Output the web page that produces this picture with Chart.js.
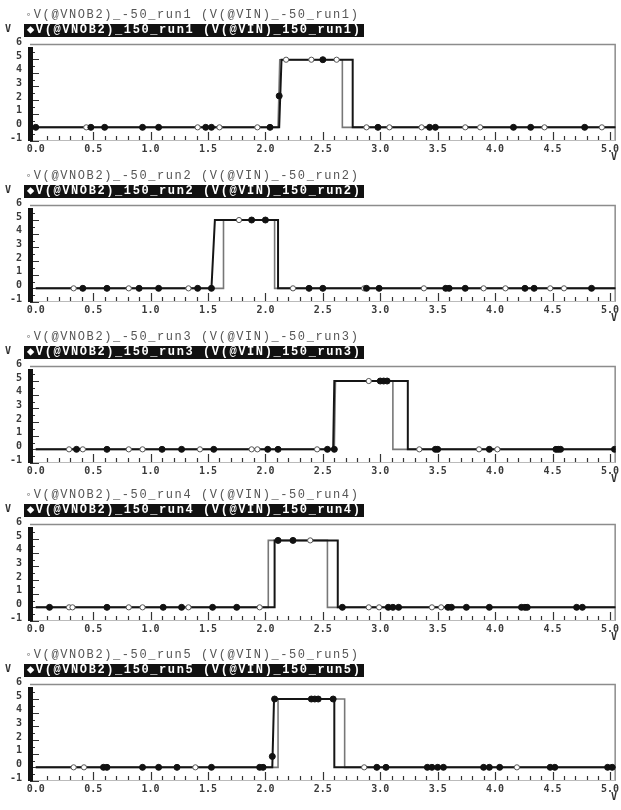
<!DOCTYPE html>
<html>
<head>
<meta charset="utf-8">
<script src="https://cdn.jsdelivr.net/npm/chart.js@4.4.1/dist/chart.umd.min.js"></script>
<style>
  body { margin: 0; background: #fff; }
  #wrap { position: relative; width: 621px; height: 810px; overflow: hidden; }
  .panel { position: absolute; left: 0; width: 621px; height: 160px; }
  .panel canvas { position: absolute; left: 0; top: 0; }
  .t1 { position: absolute; left: 25px; top: 8px; font: 12px "Liberation Mono", monospace;
        letter-spacing: 1.6px; color: #555; white-space: nowrap; line-height: 14px; }
  .t2 { position: absolute; left: 24px; top: 24px; height: 13px; padding: 0 3px 0 3px;
        font: bold 12px "Liberation Mono", monospace; letter-spacing: 1.6px; color: #fff;
        background: #111; white-space: nowrap; line-height: 13px; }
  .vy { position: absolute; left: 5px; top: 23px; font: bold 10px "DejaVu Sans Mono", monospace; color: #333; }
  .vx { position: absolute; left: 611px; top: 151px; font: bold 10px "DejaVu Sans Mono", monospace; color: #333; }
</style>
</head>
<body>
<div id="wrap"></div>
<script>
// axis ticks
const xTickValues = [0, 0.5, 1, 1.5, 2, 2.5, 3, 3.5, 4, 4.5, 5];
const xTickLabels = ['0.0', '0.5', '1.0', '1.5', '2.0', '2.5', '3.0', '3.5', '4.0', '4.5', '5.0'];
const yTickValues = [-1, 0, 1, 2, 3, 4, 5, 6];
const runNames = ['run1', 'run2', 'run3', 'run4', 'run5'];

// run1: -50 (gray, open marks) and 150 (black, filled marks)
const run1Cold = [[0, 0], [2.11, 0], [2.125, 4.95], [2.67, 4.95], [2.67, 0], [5.05, 0]];
const run1Hot = [[0, 0], [2.12, 0], [2.14, 4.95], [2.76, 4.95], [2.76, 0], [5.05, 0]];
const run1ColdMarks = [[0.44, 0], [1.41, 0], [1.6, 0], [1.93, 0], [2.18, 4.95], [2.4, 4.95], [2.62, 4.95],
  [2.88, 0], [3.08, 0], [3.36, 0], [3.74, 0], [3.87, 0], [4.43, 0], [4.93, 0]];
const run1HotMarks = [[0, 0], [0.48, 0], [0.6, 0], [0.93, 0], [1.07, 0], [1.48, 0], [1.53, 0], [2.04, 0],
  [2.12, 2.3], [2.5, 4.95], [2.98, 0], [3.43, 0], [3.48, 0], [4.16, 0], [4.31, 0], [4.78, 0]];

// run2
const run2Cold = [[0, 0], [1.635, 0], [1.635, 5.0], [2.08, 5.0], [2.08, 0], [5.05, 0]];
const run2Hot = [[0, 0], [1.53, 0], [1.56, 5.0], [2.11, 5.0], [2.11, 0], [5.05, 0]];
const run2ColdMarks = [[0.33, 0], [0.81, 0], [1.33, 0], [1.77, 5.0], [2.24, 0], [2.86, 0], [3.38, 0],
  [3.9, 0], [4.09, 0], [4.48, 0], [4.6, 0]];
const run2HotMarks = [[0.41, 0], [0.62, 0], [0.9, 0], [1.07, 0], [1.41, 0], [1.53, 0], [1.88, 5.0], [2.0, 5.0],
  [2.38, 0], [2.5, 0], [2.88, 0], [2.99, 0], [3.57, 0], [3.6, 0], [3.74, 0], [4.26, 0], [4.34, 0], [4.84, 0]];

// run3
const run3Cold = [[0, 0], [2.6, 0], [2.61, 5.0], [3.11, 5.0], [3.11, 0], [5.05, 0]];
const run3Hot = [[0, 0], [2.59, 0], [2.6, 5.0], [3.24, 5.0], [3.24, 0], [5.05, 0]];
const run3ColdMarks = [[0.29, 0], [0.41, 0], [0.81, 0], [0.93, 0], [1.43, 0], [1.88, 0], [1.93, 0], [2.45, 0],
  [2.9, 5.0], [3.34, 0], [3.86, 0], [4.02, 0]];
const run3HotMarks = [[0.355, 0], [0.62, 0], [1.1, 0], [1.27, 0], [1.55, 0], [2.02, 0], [2.11, 0], [2.54, 0],
  [2.6, 0], [3.0, 5.0], [3.03, 5.0], [3.06, 5.0], [3.48, 0], [3.5, 0], [3.95, 0], [4.53, 0], [4.55, 0], [4.57, 0], [5.04, 0]];

// run4
const run4Cold = [[0, 0], [2.025, 0], [2.025, 4.9], [2.54, 4.9], [2.54, 0], [5.05, 0]];
const run4Hot = [[0, 0], [2.075, 0], [2.08, 4.9], [2.63, 4.9], [2.63, 0], [5.05, 0]];
const run4ColdMarks = [[0.29, 0], [0.32, 0], [0.81, 0], [0.93, 0], [1.33, 0], [1.95, 0], [2.39, 4.9],
  [2.9, 0], [2.99, 0], [3.45, 0], [3.53, 0]];
const run4HotMarks = [[0.12, 0], [0.62, 0], [1.11, 0], [1.27, 0], [1.54, 0], [1.75, 0], [2.11, 4.9], [2.24, 4.9],
  [2.67, 0], [3.07, 0], [3.11, 0], [3.16, 0], [3.59, 0], [3.62, 0], [3.75, 0], [3.95, 0], [4.23, 0], [4.26, 0],
  [4.28, 0], [4.71, 0], [4.76, 0]];

// run5
const run5Cold = [[0, 0], [2.11, 0], [2.11, 5.0], [2.69, 5.0], [2.69, 0], [5.05, 0]];
const run5Hot = [[0, 0], [2.06, 0], [2.075, 5.0], [2.6, 5.0], [2.6, 0], [5.05, 0]];
const run5ColdMarks = [[0.33, 0], [0.42, 0], [1.39, 0], [2.86, 0], [4.19, 0]];
const run5HotMarks = [[0.59, 0], [0.62, 0], [0.93, 0], [1.07, 0], [1.23, 0], [1.53, 0], [1.95, 0], [1.98, 0],
  [2.06, 0.8], [2.08, 5.0], [2.4, 5.0], [2.43, 5.0], [2.46, 5.0], [2.59, 5.0], [2.97, 0], [3.05, 0], [3.41, 0],
  [3.45, 0], [3.5, 0], [3.55, 0], [3.9, 0], [3.95, 0], [4.04, 0], [4.48, 0], [4.52, 0], [4.98, 0], [5.02, 0]];

const panelCold = [run1Cold, run2Cold, run3Cold, run4Cold, run5Cold];
const panelHot = [run1Hot, run2Hot, run3Hot, run4Hot, run5Hot];
const panelColdMarks = [run1ColdMarks, run2ColdMarks, run3ColdMarks, run4ColdMarks, run5ColdMarks];
const panelHotMarks = [run1HotMarks, run2HotMarks, run3HotMarks, run4HotMarks, run5HotMarks];
const panelTops = [0, 161, 322, 480, 640];

const toXY = arr => arr.map(p => ({ x: p[0], y: p[1] }));

// frame, thick left bar and inner tick marks
const framePlugin = {
  id: 'frame',
  beforeDatasetsDraw(chart) {
    const { ctx, chartArea: a, scales } = chart;
    ctx.save();
    ctx.strokeStyle = '#8c8c8c';
    ctx.lineWidth = 1.5;
    ctx.beginPath();
    ctx.moveTo(a.left, a.top + 0.5);
    ctx.lineTo(a.right - 0.5, a.top + 0.5);
    ctx.lineTo(a.right - 0.5, a.bottom);
    ctx.stroke();
    ctx.strokeStyle = '#bbb';
    ctx.lineWidth = 1;
    ctx.beginPath();
    ctx.moveTo(a.left, a.bottom - 0.5);
    ctx.lineTo(a.right, a.bottom - 0.5);
    ctx.stroke();

    // x ticks inside, every 0.1
    ctx.strokeStyle = '#333';
    ctx.lineWidth = 1.2;
    ctx.beginPath();
    for (let i = 1; i <= 50; i++) {
      const px = Math.round(scales.x.getPixelForValue(i / 10)) + 0.5;
      const len = i % 5 === 0 ? 8 : 4;
      ctx.moveTo(px, a.bottom - 1);
      ctx.lineTo(px, a.bottom - 1 - len);
    }
    ctx.stroke();

    // y ticks inside, every 0.5
    ctx.beginPath();
    for (let i = -2; i <= 11; i++) {
      const py = Math.round(scales.y.getPixelForValue(i / 2)) + 0.5;
      const len = i % 2 === 0 ? 9 : 5;
      ctx.moveTo(a.left, py);
      ctx.lineTo(a.left + len, py);
    }
    ctx.stroke();

    // thick left bar
    ctx.fillStyle = '#111';
    ctx.fillRect(a.left - 2, a.top + 3, 5, a.bottom - a.top - 3);
    ctx.restore();
  }
};

const wrap = document.getElementById('wrap');

runNames.forEach((run, k) => {
  const panel = document.createElement('div');
  panel.className = 'panel';
  panel.style.top = panelTops[k] + 'px';
  panel.innerHTML =
    '<canvas width="621" height="160"></canvas>' +
    '<div class="t1">\u25E6V(@VNOB2)_-50_' + run + ' (V(@VIN)_-50_' + run + ')</div>' +
    '<div class="vy">V</div>' +
    '<div class="t2">\u25C6V(@VNOB2)_150_' + run + ' (V(@VIN)_150_' + run + ')</div>' +
    '<div class="vx">V</div>';
  wrap.appendChild(panel);

  new Chart(panel.querySelector('canvas'), {
    type: 'scatter',
    data: {
      datasets: [
        {
          data: toXY(panelCold[k]), showLine: true, borderColor: '#777', borderWidth: 1.6,
          pointRadius: 0, tension: 0, order: 3
        },
        {
          data: toXY(panelHot[k]), showLine: true, borderColor: '#151515', borderWidth: 2,
          pointRadius: 0, tension: 0, order: 2
        },
        {
          data: toXY(panelColdMarks[k]), showLine: false, pointStyle: 'circle', pointRadius: 2.6,
          backgroundColor: '#fff', borderColor: '#555', borderWidth: 1, order: 1
        },
        {
          data: toXY(panelHotMarks[k]), showLine: false, pointStyle: 'circle', pointRadius: 3,
          backgroundColor: '#111', borderColor: '#111', borderWidth: 1, order: 0
        }
      ]
    },
    options: {
      responsive: false,
      animation: false,
      devicePixelRatio: 1,
      layout: { padding: { top: 44, right: 1, left: 0, bottom: 0 } },
      plugins: { legend: { display: false }, tooltip: { enabled: false } },
      scales: {
        x: {
          type: 'linear', min: -0.05, max: 5.05,
          afterBuildTicks: s => { s.ticks = xTickValues.map(v => ({ value: v })); },
          afterFit: s => { s.height = 19; },
          grid: { display: false, drawTicks: false },
          border: { display: false },
          ticks: {
            autoSkip: false, maxRotation: 0, padding: 2, color: '#3a3a3a',
            font: { family: '"DejaVu Sans Mono", monospace', size: 10, weight: 'bold' },
            callback: v => xTickLabels[xTickValues.indexOf(v)]
          }
        },
        y: {
          type: 'linear', min: -1, max: 6.1,
          afterBuildTicks: s => { s.ticks = yTickValues.map(v => ({ value: v })); },
          afterFit: s => { s.width = 30; },
          grid: { display: false, drawTicks: false },
          border: { display: false },
          ticks: {
            autoSkip: false, padding: 8, labelOffset: -3, color: '#3a3a3a',
            font: { family: '"DejaVu Sans Mono", monospace', size: 10, weight: 'bold' }
          }
        }
      }
    },
    plugins: [framePlugin]
  });
});
</script>
</body>
</html>
